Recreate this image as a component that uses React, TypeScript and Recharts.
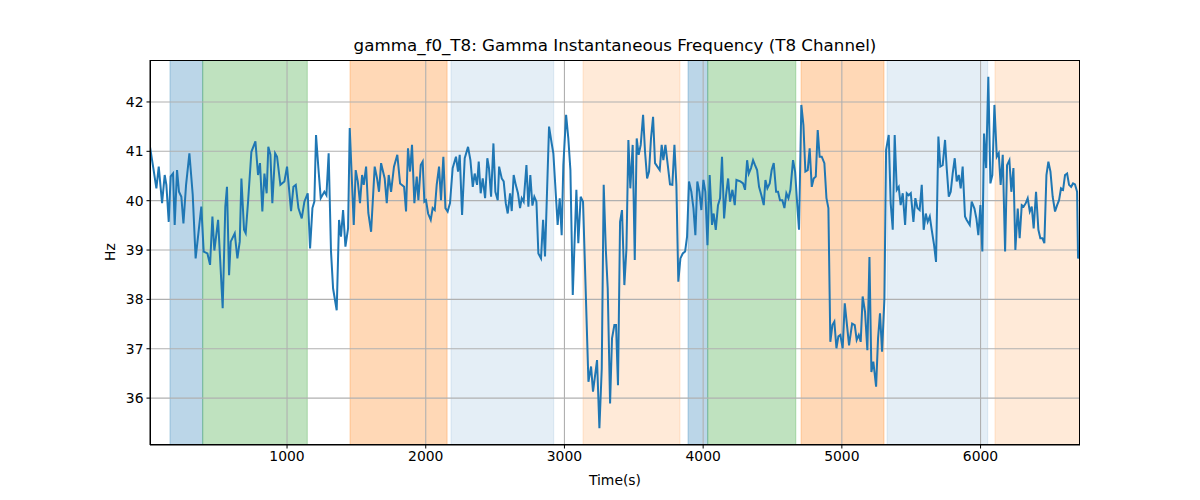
import React from 'react';
import { LineChart, Line, XAxis, YAxis, ReferenceArea, ReferenceLine } from 'recharts';

const times = [
  12,36,58,75,99,118,130,147,161,178,190,207,221,238,253,272,296,320,341,382,399,426,445,462,476,503,536,555,567,582,594,623,642,659,671,690,702,719,743,772,791,805,822,837,
  853,865,880,894,914,928,952,981,1000,1029,1046,1063,1082,1106,1125,1149,1166,1183,1197,1209,1226,1243,1269,1284,1300,1317,1332,1358,1375,1389,1404,1421,1440,1452,1481,1495,1510,1526,1541,1553,1570,1586,1606,1632,1649,1663,1678,
  1704,1719,1733,1750,1771,1795,1815,1844,1858,1872,1887,1901,1918,1935,1947,1964,1978,1990,2002,2017,2036,2050,2065,2079,2096,2110,2127,2142,2158,2175,2194,2218,2233,2245,2262,2281,2305,2322,2339,2353,2370,2382,2396,2411,2428,2444,2456,2471,2488,2502,2519,
  2529,2548,2562,2577,2591,2608,2620,2634,2649,2665,2680,2692,2706,2726,2740,2754,2769,2783,2798,2812,2831,2846,2860,2889,2908,2920,2951,2966,2980,2992,3012,3028,3043,3060,3086,3100,3117,3134,3173,3192,3206,3235,3252,3269,3283,3298,3312,3329,3343,3360,
  3372,3386,3401,3415,3432,3447,3461,3475,3492,3507,3521,3535,3550,3567,3581,3596,3610,3624,3639,3653,3670,3687,3701,3713,3728,3745,3761,3778,3793,3807,3821,3836,3853,3870,3884,3898,3915,3930,3944,3958,3973,3987,4002,4016,4031,4047,4064,4076,4091,4107,4122,4136,4151,4165,4180,4194,4211,
  4228,4240,4268,4288,4302,4317,4329,4345,4360,4374,4389,4403,4420,4437,4449,4463,4480,4494,4509,4526,4540,4554,4571,4586,4600,4615,4629,4648,4663,4677,4691,4708,4723,4737,4754,4768,4783,4797,4812,4826,4840,4855,4874,4889,4903,4917,4932,4946,4961,4975,4989,5006,5021,5037,5052,
  5074,5093,5107,5122,5136,5150,5167,5184,5199,5213,5227,5247,5261,5275,5290,5307,5319,5338,5352,5367,5381,5396,5410,5424,5439,5456,5468,5482,5497,5516,5530,5545,5561,5576,5590,5605,5619,5634,5648,5665,5679,5696,5710,5727,5744,5756,5771,5785,5799,5814,5828,5843,5857,5871,5888,5900,
  5922,5936,5956,5970,5984,5999,6013,6025,6040,6056,6071,6085,6100,6117,6131,6145,6160,6177,6191,6208,6222,6237,6251,6268,6282,6297,6311,6326,6340,6355,6369,6383,6400,6417,6431,6446,6460,6475,6489,6504,6520,6537,6552,6566,6580,6595,6609,6624,6638,6653,6667,6681,6696,6703,6717,
];

const hz = [
  41.09,40.66,40.25,40.69,39.95,40.52,40.32,39.57,40.49,40.55,39.51,40.62,40.18,40.08,39.54,40.32,40.96,40.12,38.83,39.88,38.97,38.93,38.70,39.68,38.99,39.61,37.82,39.88,40.28,38.49,39.17,39.34,38.83,39.17,40.45,39.41,39.34,39.98,40.99,41.20,40.52,40.76,39.78,40.55,
  40.15,41.09,40.93,39.95,40.96,40.89,40.32,40.39,40.69,39.79,40.28,40.32,39.85,39.64,39.98,40.15,39.03,39.85,39.98,41.33,40.66,40.05,40.18,40.11,40.96,38.97,38.22,37.78,39.61,39.27,39.81,39.07,39.44,41.47,39.51,40.62,40.39,39.95,40.52,40.32,40.69,39.75,39.37,40.69,40.45,40.18,40.76,
  40.45,39.95,40.52,40.18,40.69,40.93,40.35,40.28,39.78,41.06,40.59,41.13,39.95,40.49,40.01,40.72,40.79,39.98,40.01,39.74,39.61,39.85,39.81,40.32,40.69,40.01,40.89,39.85,39.78,39.95,40.66,40.89,40.59,40.93,39.71,40.86,41.09,40.82,40.28,40.55,40.32,40.79,40.15,40.45,40.05,40.86,40.66,40.08,41.16,40.18,40.01,
  40.69,40.45,40.39,39.95,39.74,40.15,39.79,40.52,40.32,40.15,39.85,40.05,39.98,40.72,39.88,40.52,39.90,40.08,39.98,38.93,38.83,39.61,38.87,41.50,41.16,40.96,39.51,40.05,39.30,40.72,41.74,41.26,40.62,38.09,40.22,39.14,40.08,39.98,36.33,36.64,36.13,36.77,35.39,36.60,40.32,39.03,38.22,35.89,37.21,37.48,
  37.48,36.26,39.57,39.81,38.29,39.03,41.23,40.25,41.13,38.80,41.26,40.93,41.13,41.74,40.99,40.45,40.59,41.26,41.70,40.76,40.69,40.62,41.13,40.82,41.13,40.72,40.33,40.32,41.13,40.32,38.36,38.83,38.93,38.97,39.27,40.39,40.18,39.85,39.30,40.39,40.18,39.81,40.42,40.18,39.10,40.52,39.51,39.74,39.41,39.91,40.05,40.89,39.64,40.11,40.45,39.98,40.22,
  39.91,40.42,40.39,40.35,40.22,40.82,40.55,40.66,40.82,40.72,40.62,40.28,40.11,39.91,40.42,40.25,40.35,40.62,40.76,40.18,40.18,40.01,40.01,39.85,40.15,40.05,40.22,40.82,40.59,39.98,39.41,41.94,41.53,40.59,40.62,41.06,40.28,40.45,40.49,41.43,40.89,40.89,40.76,40.05,39.85,37.14,37.48,37.55,37.01,37.25,37.28,37.01,37.92,37.48,37.07,
  37.51,37.48,37.18,37.28,37.14,38.06,37.75,36.97,38.86,36.53,36.74,36.23,37.21,37.72,36.94,38.02,41.03,41.33,39.95,39.41,41.33,40.22,40.28,39.91,40.15,39.51,40.15,40.11,40.15,39.57,40.05,39.85,39.81,40.32,39.41,39.74,39.57,39.68,39.41,39.10,38.76,41.30,40.69,40.72,41.23,40.66,40.08,40.18,40.55,40.86,40.39,40.52,40.25,40.69,39.68,39.61,
  39.51,39.98,39.84,39.64,39.30,39.91,38.97,41.36,40.66,42.51,40.35,40.52,41.94,40.89,40.96,40.32,40.93,38.97,40.72,40.82,40.18,40.66,39.00,39.84,39.24,39.91,39.88,39.95,40.05,39.78,39.88,39.44,40.18,39.41,39.24,39.24,39.14,40.52,40.79,40.59,40.08,39.78,39.91,40.01,40.25,40.22,40.52,40.55,40.32,40.28,40.35,40.33,40.18,38.83,39.00,
];

const spanStart = [156, 392, 1454, 2182, 3134, 3891, 4033, 4706, 5326, 6104];
const spanEnd = [392, 1146, 2154, 2923, 3833, 4033, 4668, 5304, 6052, 6717];
const spanKind = ['blue', 'green', 'orange', 'lightblue', 'lightorange', 'blue', 'green', 'orange', 'lightblue', 'lightorange'];

const xTicks = [1000, 2000, 3000, 4000, 5000, 6000];
const yTicks = [36, 37, 38, 39, 40, 41, 42];

const kindStyle: Record<string, { color: string; opacity: number }> = {
  blue: { color: '#1f77b4', opacity: 0.3 },
  green: { color: '#2ca02c', opacity: 0.3 },
  orange: { color: '#ff7f0e', opacity: 0.3 },
  lightblue: { color: '#1f77b4', opacity: 0.12 },
  lightorange: { color: '#ff7f0e', opacity: 0.16 },
};

const data = times.map((t, i) => ({ t, hz: hz[i] }));

const FONT = '"DejaVu Sans", sans-serif';
const tickStyle = { fill: '#000', fontSize: 13.9, fontFamily: FONT };

export default function App() {
  return (
    <div style={{ position: 'absolute', left: 0, top: 0, width: 1200, height: 500, background: '#fff', fontFamily: FONT }}>
      <LineChart width={1200} height={500} data={data} margin={{ top: 60, right: 120, bottom: 25, left: 90 }}>
        <XAxis
          dataKey="t"
          type="number"
          domain={[12, 6717]}
          ticks={xTicks}
          allowDataOverflow
          height={30}
          tickSize={3.5}
          tickMargin={3}
          tick={tickStyle}
          axisLine={{ stroke: '#000' }}
          tickLine={{ stroke: '#000' }}
        />
        <YAxis
          type="number"
          domain={[35.05, 42.85]}
          ticks={yTicks}
          allowDataOverflow
          width={60}
          tickSize={3.5}
          tickMargin={3}
          tick={tickStyle}
          axisLine={{ stroke: '#000' }}
          tickLine={{ stroke: '#000' }}
        />
        {spanStart.map((s, i) => (
          <ReferenceArea
            key={'span' + i}
            x1={s}
            x2={spanEnd[i]}
            fill={kindStyle[spanKind[i]].color}
            fillOpacity={kindStyle[spanKind[i]].opacity}
            stroke={kindStyle[spanKind[i]].color}
            strokeOpacity={kindStyle[spanKind[i]].opacity}
            ifOverflow="hidden"
          />
        ))}
        {xTicks.map((x) => (
          <ReferenceLine key={'gx' + x} x={x} stroke="#b0b0b0" strokeWidth={1.1} />
        ))}
        {yTicks.map((y) => (
          <ReferenceLine key={'gy' + y} y={y} stroke="#b0b0b0" strokeWidth={1.1} />
        ))}
        <Line
          type="linear"
          dataKey="hz"
          stroke="#1f77b4"
          strokeWidth={2}
          dot={false}
          activeDot={false}
          isAnimationActive={false}
        />
      </LineChart>
      <div style={{ position: 'absolute', left: 150, top: 60, width: 930, height: 385, border: '1.1px solid #000', boxSizing: 'border-box', pointerEvents: 'none' }} />
      <div style={{ position: 'absolute', left: 150, width: 930, top: 35, textAlign: 'center', fontSize: 16.7, lineHeight: '20px', color: '#000' }}>
        gamma_f0_T8: Gamma Instantaneous Frequency (T8 Channel)
      </div>
      <div style={{ position: 'absolute', left: 150, width: 930, top: 472, textAlign: 'center', fontSize: 13.9, lineHeight: '17px', color: '#000' }}>
        Time(s)
      </div>
      <div style={{ position: 'absolute', left: 110, top: 252, transform: 'translate(-50%, -50%) rotate(-90deg)', fontSize: 13.9, lineHeight: '17px', color: '#000', whiteSpace: 'nowrap' }}>
        Hz
      </div>
    </div>
  );
}
